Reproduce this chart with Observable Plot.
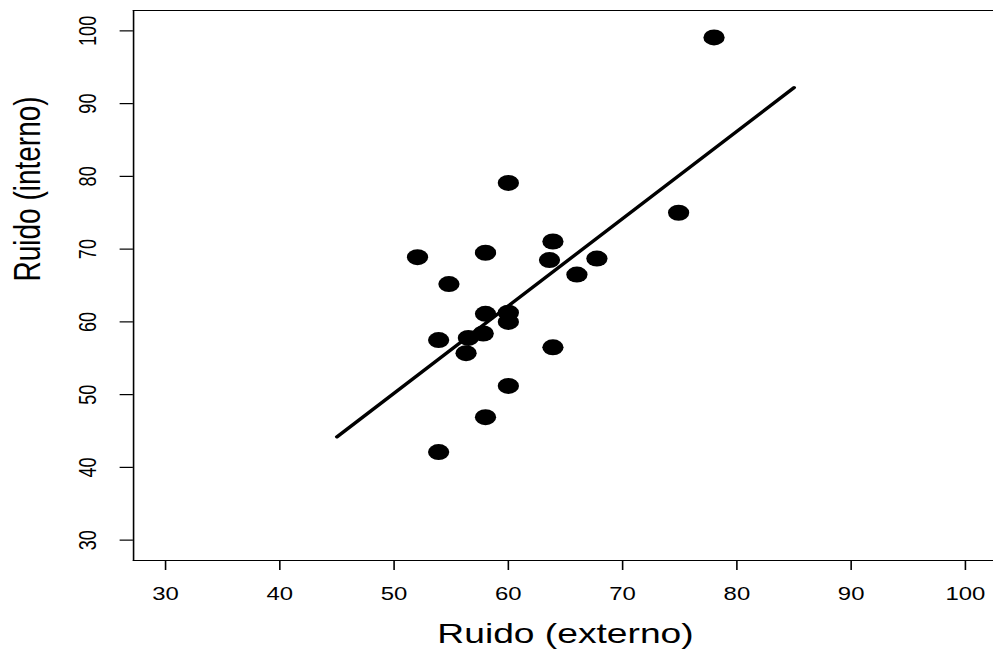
<!DOCTYPE html>
<html>
<head>
<meta charset="utf-8">
<script src="https://cdn.jsdelivr.net/npm/d3@7"></script>
<script src="https://cdn.jsdelivr.net/npm/@observablehq/plot@0.6"></script>
<style>
  html, body { margin: 0; padding: 0; background: #fff; overflow: hidden; }
  #chart { width: 993px; height: 650px; overflow: hidden; }
</style>
</head>
<body>
<div id="chart"></div>
<script>
// Data
const externo = [78.0, 60.0, 74.9, 63.9, 52.05, 58.0, 63.6, 67.75, 66.0, 54.8, 58.0, 60.0, 60.0, 57.8, 56.5, 53.9, 56.3, 63.9, 60.0, 58.0, 53.9];
const interno = [99.1, 79.1, 75.0, 71.05, 68.9, 69.5, 68.5, 68.7, 66.5, 65.2, 61.1, 61.25, 60.0, 58.4, 57.8, 57.5, 55.7, 56.5, 51.2, 46.9, 42.1];
// fitted regression line end points
const fitX = [45, 85];
const fitY = [44.2, 92.2];
const xTicks = [30, 40, 50, 60, 70, 80, 90, 100];
const yTicks = [30, 40, 50, 60, 70, 80, 90, 100];
const xTitle = "Ruido (externo)";
const yTitle = "Ruido (interno)";

const points = externo.map((x, i) => ({x, y: interno[i]}));
const fit = fitX.map((x, i) => ({x, y: fitY[i]}));

// The reference image is horizontally stretched (~1.33x); draw at a narrower
// width and stretch the SVG horizontally to reproduce that look.
const SX = 1.329;

const chart = Plot.plot({
  width: 750,
  height: 650,
  marginLeft: 100,
  marginRight: 0,
  marginTop: 10,
  marginBottom: 90,
  style: {
    fontFamily: "'Liberation Sans', Arial, sans-serif",
    color: "#000",
    background: "#fff",
    transform: `scaleX(${SX})`,
    transformOrigin: "0 0",
    maxWidth: "none",
    overflow: "visible"
  },
  x: {domain: [27.2, 102.8]},
  y: {domain: [27.2, 102.8]},
  marks: [
    Plot.frame({anchor: "top", stroke: "#000", strokeWidth: 1.2}),
    Plot.frame({anchor: "left", stroke: "#000", strokeWidth: 1.2}),
    Plot.frame({anchor: "bottom", stroke: "#000", strokeWidth: 1.2}),
    Plot.axisX({ticks: xTicks, tickSize: 10, tickPadding: 17, fontSize: 18, label: null, stroke: "#000", strokeWidth: 1.2}),
    Plot.axisY({ticks: yTicks, tickSize: 10, tickPadding: 18, tickRotate: -90, fontSize: 18, label: null, stroke: "#000", strokeWidth: 1.2}),
    Plot.line(fit, {x: "x", y: "y", stroke: "#000", strokeWidth: 3}),
    Plot.dot(points, {x: "x", y: "y", r: 8, fill: "#000", stroke: "none"}),
    Plot.text([xTitle], {text: d => d, frameAnchor: "bottom", dy: 74, fontSize: 28, lineAnchor: "middle", fill: "#000"}),
    Plot.text([yTitle], {text: d => d, frameAnchor: "left", dx: -79, dy: -4, rotate: -90, fontSize: 28, lineAnchor: "middle", fill: "#000"})
  ]
});

document.getElementById("chart").appendChild(chart);
</script>
</body>
</html>
